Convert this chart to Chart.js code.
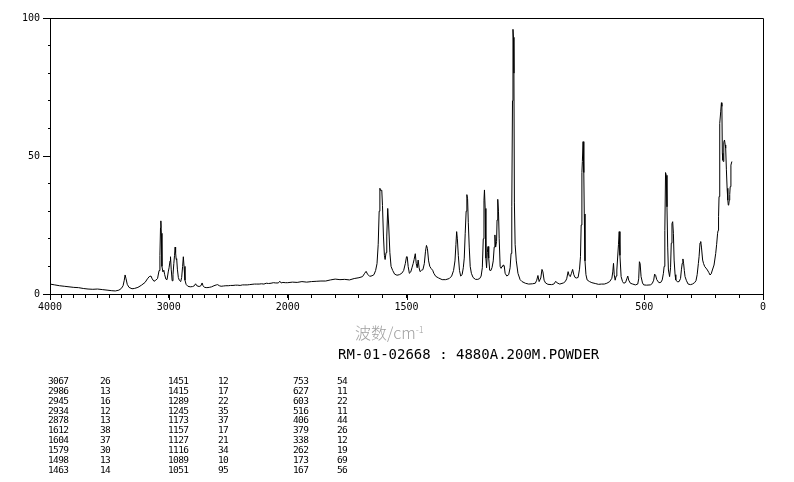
<!DOCTYPE html>
<html>
<head>
<meta charset="utf-8">
<script src="https://cdn.jsdelivr.net/npm/chart.js@4.4.1/dist/chart.umd.min.js"></script>
<style>
  html, body { margin: 0; padding: 0; background: #fff; }
  #wrap { position: relative; width: 794px; height: 482px; overflow: hidden; background: #fff; }
  #c { position: absolute; left: 0; top: 0; }
  .t { position: absolute; white-space: pre; color: #000; }
  #xtitle { left: 355px; top: 320px; font-family: "Noto Sans CJK SC", sans-serif; font-size: 16px; font-weight: 300; color: #a0a0a0; line-height: 19px; }
  #xtitle sup { font-size: 9px; vertical-align: 6px; }
  #sub { left: 338px; top: 346px; font-family: "DejaVu Sans Mono", monospace; font-size: 14px; line-height: 16px; }
  .cell { position: absolute; font-family: "DejaVu Sans Mono", monospace; font-size: 9.5px; line-height: 10px; letter-spacing: -0.6px; }
</style>
</head>
<body>
<div id="wrap">
  <canvas id="c" width="794" height="482"></canvas>
  <div id="xtitle" class="t">波数/cm<sup>-1</sup></div>
  <div id="sub" class="t">RM-01-02668 : 4880A.200M.POWDER</div>
  <div id="table"></div>
</div>
<script>
// ---- Data ----
const wavenumbers = [
  4000,3960,3920,3880,3840,3800,3760,3720,3680,3640,3600,3560,3520,3480,3450,3420,3400,3385,3375,3368,
  3360,3350,3335,3310,3290,3260,3230,3200,3180,3165,3150,3140,3125,3110,3095,3082,3075,3070,3067,3063,
  3058,3050,3042,3035,3025,3015,3005,2998,2990,2986,2980,2972,2965,2958,2952,2947,2943,2938,2934,2928,
  2920,2912,2900,2892,2884,2878,2872,2864,2855,2840,2820,2800,2785,2775,2765,2745,2730,2720,2712,2700,
  2680,2660,2640,2620,2600,2590,2575,2560,2540,2520,2500,2480,2460,2440,2420,2400,2380,2360,2340,2320,
  2300,2280,2260,2240,2220,2200,2180,2160,2140,2120,2100,2080,2065,2055,2040,2020,2000,
  1980,1960,1940,1920,1900,1880,1860,1840,1820,1800,1780,1760,1740,1720,1700,1685,1676,1670,1664,1655,
  1645,1637,1630,1624,1619,1615,1612,1609,1604,1601,1597,1593,1590,1586,1583,1579,1575,1570,1565,1558,
  1550,1540,1530,1520,1512,1505,1500,1497,1493,1488,1482,1477,1472,1468,1463,1459,1455,1451,1447,1443,
  1437,1431,1425,1420,1416,1412,1407,1402,1396,1390,1385,1377,1365,1350,1335,1320,1310,1302,1296,1292,
  1289,1286,1282,1277,1272,1266,1261,1257,1253,1249,1246,1243,1240,1236,1232,1227,1220,1210,1200,1192,
  1186,1181,1177,1174,1172,1169,1166,1163,1160,1157,1154,1150,1145,1140,1135,1131,1128,1125,1121,1119,
  1116,1113,1110,1106,1102,1098,1094,1089,1085,1078,1070,1064,1060,1057,1054,1052,1050,1048,1046,1043,
  1038,1031,1022,1014,1000,986,970,958,952,947,942,935,930,926,921,915,905,890,880,872,
  866,855,840,832,826,820,816,811,806,801,796,791,785,778,772,768,765,762,760,757,
  754,752,749,745,740,730,720,706,692,680,668,657,645,636,632,629,626,622,618,615,
  608,605,602,597,591,586,578,573,569,565,558,548,537,527,523,520,517,513,507,502,
  490,474,466,460,456,452,447,438,430,424,419,416,413,410,407,404,401,398,393,389,
  386,383,380,377,374,370,367,360,353,347,343,340,337,334,331,328,322,315,305,297,
  288,282,277,272,269,265,262,259,254,250,245,240,234,228,223,218,213,206,199,195,
  191,189,187,185,183,181,178,175,173,171,169,167,165,162,159,157,154,151,148,146,
  144,142,140,138,135,131
];
const intensities = [
  3.6,3.3,3.0,2.8,2.6,2.4,2.3,2.0,1.8,1.7,1.8,1.6,1.4,1.2,1.1,1.4,2.0,3.0,5.0,6.9,
  5.5,3.5,2.4,1.9,2.0,2.4,3.2,4.2,5.5,6.3,6.5,5.5,4.6,5.0,5.6,8.5,14,24,26.5,22,
  10,8.0,8.6,7.0,5.4,5.2,8.0,9.5,12,13.5,9,4.8,7,11,14,17,15,12.5,12.8,9,
  6,5,4.5,6,10,13.5,10,5,3.5,2.8,2.6,2.7,3.0,3.7,3.0,2.7,3.0,4.0,3.0,2.4,
  2.3,2.4,2.6,3.0,3.3,3.4,3.0,2.8,2.9,3.0,3.0,3.1,3.1,3.2,3.2,3.1,3.3,3.3,3.3,3.4,
  3.5,3.6,3.6,3.6,3.7,3.6,3.9,3.8,3.9,4.1,4.0,4.0,4.6,4.0,4.2,4.1,4.1,
  4.3,4.2,4.5,4.3,4.5,4.6,4.7,4.7,5.1,5.4,5.2,5.3,5.1,5.6,5.9,6.3,7.5,8.2,7.2,6.4,
  6.6,7.0,8.5,11,18,30,38.3,37.5,37.6,32,21,14,12.5,15,21,31,25,15,10,8.5,
  7.2,6.8,7.0,7.5,8.5,11,13.5,13.5,10,7.5,8,9.5,11,12.5,14.6,11,9.5,12.3,9.5,8.1,
  8.6,8.8,11,15.5,17.6,16.5,12,10,9.2,8.6,7.5,6.4,5.8,5.2,5.2,5.6,6.5,8.5,12,18,
  22.6,20,14,8.5,6.5,7,9.5,13,22,30,36,34.5,26,17,10,7.5,6.0,5.3,5.3,5.6,
  6.5,9.5,20,34,37.7,31,13,9.5,15,17.2,13,8.6,8.5,9.6,12,17,21.4,17,19,26.8,
  34.3,30,20,10,9.3,10,10.5,10.3,7.5,6.5,7.0,9.5,14.7,31.6,70,95.9,93,80,33,18,
  12,7.5,5.2,4.5,3.9,3.6,3.7,3.9,5.0,6.7,4.5,5.8,8.9,8.0,5.0,4.0,3.5,3.4,3.6,4.6,
  4.0,3.6,4.0,4.5,5.5,8.1,6.8,6.3,7.5,8.9,7.0,6.0,5.8,6.0,9,13.5,25,44,48,55.2,
  44,29,12,7,5.1,4.5,4.1,3.8,3.5,3.6,3.6,3.9,4.5,5.7,8,11.1,7,5,6.5,8.7,
  18,22.6,14,6.3,4.5,3.9,4.2,5.5,6.5,5.0,3.9,3.6,3.3,3.6,5.5,11.7,11,6.3,4,3.3,
  3.2,3.3,3.8,5.0,7.2,6.8,5.2,4.1,4.2,5.1,7.5,10,23,44,43,31.6,17,8.7,6.3,9.5,
  18.4,25.5,26.2,22,12.3,7,5.1,4.4,4.5,5.6,9,11.1,12.7,11,8.5,6.3,4.8,3.6,3.4,3.6,
  4.1,4.8,7,11,13.5,18.5,19,17,12.3,11,9.9,9.4,8.7,7.8,6.9,7.3,8.7,10.5,14.7,18,
  22,23,28,35.3,48,61.8,66,69.3,68,51,48.5,48,55,55.8,54,52.8,45,38.3,34,32.2,
  32.5,34,36,38.9,46.7,48
];
const xTickWavenumbers = (() => { const a = []; for (let w = 4000; w >= 0; w -= 100) a.push(w); return a; })();
const xLabelWavenumbers = [4000, 3000, 2000, 1500, 500, 0];
const yLabelValues = [0, 50, 100];
const peakWavenumbers = [3067,2986,2945,2934,2878,1612,1604,1579,1498,1463,
                         1451,1415,1289,1245,1173,1157,1127,1116,1089,1051,
                         753,627,603,516,406,379,338,262,173,167];
const peakIntensities = [26,13,16,12,13,38,37,30,13,14,
                         12,17,22,35,37,17,21,34,10,95,
                         54,11,22,11,44,26,12,19,69,56];

// Split wavenumber axis: 4000-2000 compressed (half scale), 2000-0 full scale
const axisPos = w => (w >= 2000 ? (4000 - w) / 2 : 3000 - w);
const wnFromPos = u => (u <= 1000 ? Math.round(4000 - 2 * u) : Math.round(3000 - u));

const points = wavenumbers.map((w, i) => ({ x: axisPos(w), y: intensities[i] }));

// peak table
(function () {
  const tbl = document.getElementById('table');
  const colX = [[48, 100], [168, 218], [293, 337]];
  for (let i = 0; i < peakWavenumbers.length; i++) {
    const col = Math.floor(i / 10), row = i % 10;
    const top = 376 + row * 9.85;
    const a = document.createElement('div');
    a.className = 'cell'; a.style.left = colX[col][0] + 'px'; a.style.top = top + 'px';
    a.textContent = String(peakWavenumbers[i]);
    const b = document.createElement('div');
    b.className = 'cell'; b.style.left = colX[col][1] + 'px'; b.style.top = top + 'px';
    b.textContent = String(peakIntensities[i]);
    tbl.appendChild(a); tbl.appendChild(b);
  }
})();

const framePlugin = {
  id: 'frame',
  afterDraw(chart) {
    const { ctx, chartArea: a, scales } = chart;
    ctx.save();
    ctx.strokeStyle = '#000';
    ctx.lineWidth = 1;
    ctx.beginPath();
    ctx.moveTo(Math.round(a.left) + 0.5, Math.round(a.top) + 0.5);
    ctx.lineTo(Math.round(a.right) + 0.5, Math.round(a.top) + 0.5);
    ctx.lineTo(Math.round(a.right) + 0.5, Math.round(a.bottom) + 0.5);
    ctx.stroke();
    // longer major ticks
    ctx.beginPath();
    xLabelWavenumbers.forEach(w => {
      const px = Math.round(scales.x.getPixelForValue(axisPos(w))) + 0.5;
      ctx.moveTo(px, a.bottom); ctx.lineTo(px, a.bottom + 6);
    });
    yLabelValues.forEach(v => {
      const py = Math.round(scales.y.getPixelForValue(v)) + 0.5;
      ctx.moveTo(a.left, py); ctx.lineTo(a.left - 7, py);
    });
    ctx.stroke();
    ctx.restore();
  }
};

new Chart(document.getElementById('c'), {
  type: 'line',
  data: {
    datasets: [{
      data: points,
      borderColor: '#000',
      borderWidth: 1,
      pointRadius: 0,
      tension: 0,
      fill: false
    }]
  },
  options: {
    responsive: false,
    animation: false,
    events: [],
    layout: { padding: { top: 18, right: 31, bottom: 168, left: 0 } },
    plugins: { legend: { display: false }, tooltip: { enabled: false } },
    scales: {
      x: {
        type: 'linear',
        min: 0, max: 3000,
        afterBuildTicks: s => { s.ticks = xTickWavenumbers.map(w => ({ value: axisPos(w) })); },
        afterFit: s => { s.height = 20; },
        border: { display: true, color: '#000', width: 1 },
        grid: { display: true, drawOnChartArea: false, drawTicks: true, tickLength: 4, color: '#000', tickColor: '#000' },
        ticks: {
          autoSkip: false, maxRotation: 0, minRotation: 0, padding: 3,
          color: '#000',
          font: { family: 'DejaVu Sans Mono', size: 10 },
          callback: v => { const w = wnFromPos(v); return xLabelWavenumbers.includes(w) ? String(w) : ''; }
        }
      },
      y: {
        type: 'linear',
        min: 0, max: 100,
        afterFit: s => { s.width = 50; },
        border: { display: true, color: '#000', width: 1 },
        grid: { display: true, drawOnChartArea: false, drawTicks: true, tickLength: 2, color: '#000', tickColor: '#000' },
        ticks: {
          stepSize: 10, padding: 8, color: '#000',
          font: { family: 'DejaVu Sans Mono', size: 10 },
          callback: v => (yLabelValues.includes(v) ? String(v) : '')
        }
      }
    }
  },
  plugins: [framePlugin]
});
</script>
</body>
</html>
